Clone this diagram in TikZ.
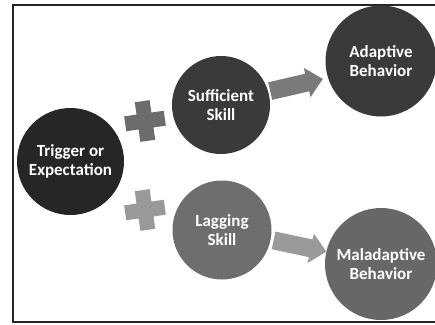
\documentclass[tikz,border=0pt]{standalone}
\usepackage{fontspec}
\setmainfont{Carlito}
\definecolor{cdark}{HTML}{262626}
\definecolor{cmid}{HTML}{3A3A3A}
\definecolor{clag}{HTML}{6E6E6E}
\definecolor{cmal}{HTML}{676767}
\definecolor{plusA}{HTML}{6C6C6C}
\definecolor{plusB}{HTML}{999999}
\definecolor{arrA}{HTML}{7A7A7A}
\definecolor{arrB}{HTML}{9A9A9A}
\begin{document}
\begin{tikzpicture}[x=1pt,y=-1pt,
  bubble/.style={circle, inner sep=0pt, text=white, align=center,
    font=\fontsize{17}{18.5}\selectfont\bfseries}]
\useasboundingbox (0,0) rectangle (435,324);
\fill[white] (0,0) rectangle (435,324);
\draw[line width=1.2pt, black!85] (13,5) rectangle (437,322);

\node[bubble, fill=cdark, minimum size=107pt] (trig) at (70.5,161.5) {Trigger or\\Expectation};
\node[bubble, fill=cmid, minimum size=98pt] (suff) at (221,105) {Sufficient\\Skill};
\node[bubble, fill=clag, minimum size=99pt] (lag) at (222,230) {Lagging\\Skill};
\node[bubble, fill=cmid, minimum size=111pt] (adap) at (381,61) {Adaptive\\Behavior};
\node[bubble, fill=cmal, minimum size=112pt] (mal) at (381,264) {Maladaptive\\Behavior};

% plus signs
\coordinate (plusup) at (145,121);
\coordinate (pluslo) at (145,210);
\fill[plusA, shift={(plusup)}, rotate=8]
  (-7.5,-20) -- (7.5,-20) -- (7.5,-7.5) -- (20,-7.5) -- (20,7.5) -- (7.5,7.5)
  -- (7.5,20) -- (-7.5,20) -- (-7.5,7.5) -- (-20,7.5) -- (-20,-7.5) -- (-7.5,-7.5) -- cycle;
\fill[plusB, shift={(pluslo)}, rotate=8]
  (-7.5,-20) -- (7.5,-20) -- (7.5,-7.5) -- (20,-7.5) -- (20,7.5) -- (7.5,7.5)
  -- (7.5,20) -- (-7.5,20) -- (-7.5,7.5) -- (-20,7.5) -- (-20,-7.5) -- (-7.5,-7.5) -- cycle;

% block arrows
\coordinate (arrup) at (296.5,85);
\coordinate (arrlo) at (300,246);
\fill[arrA, shift={(arrup)}, rotate=13]
  (-27,-9) -- (11,-9) -- (11,-15) -- (27,0) -- (11,15) -- (11,9) -- (-27,9) -- cycle;
\fill[arrB, shift={(arrlo)}, rotate=-12]
  (-27,-9) -- (11,-9) -- (11,-15) -- (27,0) -- (11,15) -- (11,9) -- (-27,9) -- cycle;
\end{tikzpicture}
\end{document}
